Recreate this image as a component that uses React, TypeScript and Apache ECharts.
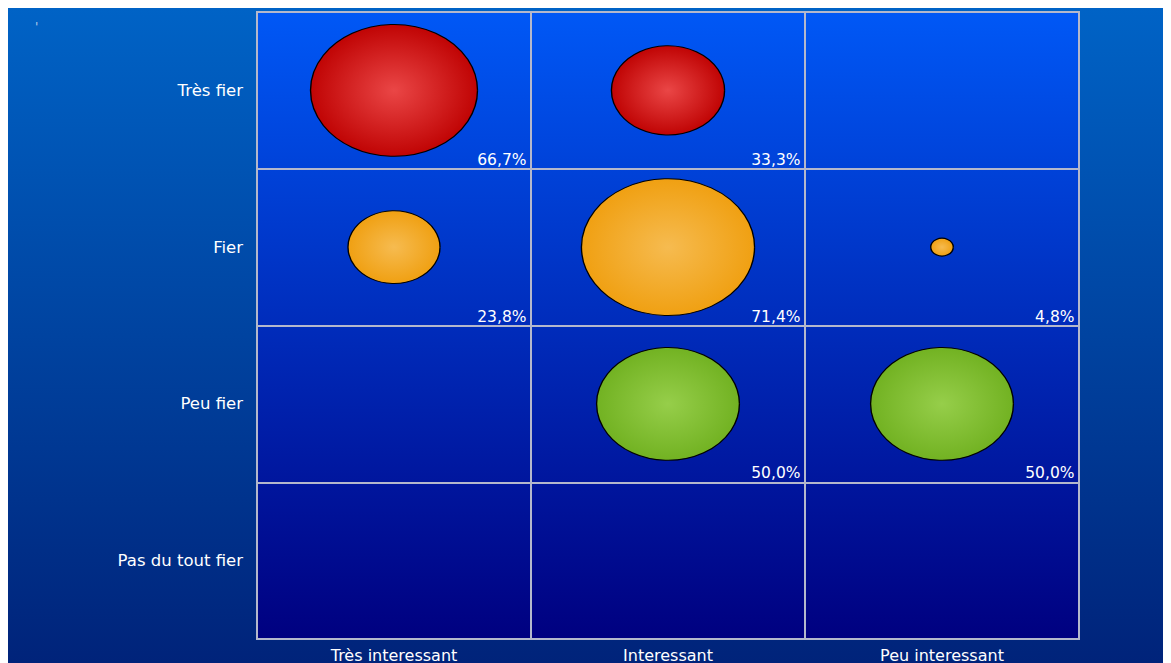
import React, { useEffect, useRef } from "react";
import * as echarts from "echarts";

const rowLabels = ["Très fier", "Fier", "Peu fier", "Pas du tout fier"];
const colLabels = ["Très interessant", "Interessant", "Peu interessant"];

const tresFier: (number | null)[] = [66.7, 33.3, null];
const fier: (number | null)[] = [23.8, 71.4, 4.8];
const peuFier: (number | null)[] = [null, 50.0, 50.0];
const pasDuToutFier: (number | null)[] = [null, null, null];

const rowValues = [tresFier, fier, peuFier, pasDuToutFier];
const rowColors = [
  ["#ea4646", "#c00404"],
  ["#f6bb50", "#f0a012"],
  ["#96ce4a", "#72b222"],
  ["#9999ff", "#6666cc"],
];

const fontFamily = "'DejaVu Sans', 'Liberation Sans', Arial, sans-serif";

function bubbleSize(v: number): [number, number] {
  const w = 41.35 * Math.pow(v, 0.4) - 54.9;
  return [w, w * 0.79];
}

export default function App() {
  const ref = useRef<HTMLDivElement>(null);
  useEffect(() => {
    if (!ref.current) return;
    const chart = echarts.init(ref.current, null, { renderer: "svg" });

    const bubbleSeries = rowValues.map((vals, r) => ({
      type: "scatter",
      name: rowLabels[r],
      xAxisIndex: 0,
      yAxisIndex: 0,
      data: vals
        .map((v, c) => (v == null ? null : [colLabels[c], rowLabels[r], v]))
        .filter((d) => d != null),
      symbol: "circle",
      symbolSize: (d: any) => bubbleSize(d[2]),
      itemStyle: {
        opacity: 1,
        color: {
          type: "radial",
          x: 0.5,
          y: 0.5,
          r: 0.5,
          colorStops: [
            { offset: 0, color: rowColors[r][0] },
            { offset: 1, color: rowColors[r][1] },
          ],
        },
        borderColor: "#000000",
        borderWidth: 1.2,
      },
      z: 3,
    }));

    const labelData: any[] = [];
    rowValues.forEach((vals, r) =>
      vals.forEach((v, c) => {
        if (v != null) labelData.push([c + 1, r + 1, v]);
      })
    );

    const labelSeries = {
      type: "scatter",
      xAxisIndex: 1,
      yAxisIndex: 1,
      data: labelData,
      symbolSize: 1,
      itemStyle: { color: "rgba(0,0,0,0)", opacity: 1 },
      silent: true,
      z: 4,
      label: {
        show: true,
        position: "left",
        distance: 4,
        offset: [0, -9],
        color: "#ffffff",
        opacity: 1,
        fontFamily,
        fontSize: 15.5,
        formatter: (p: any) => p.value[2].toFixed(1).replace(".", ",") + "%",
      },
    };

    const gridLine = { show: true, lineStyle: { color: "#b4b8cc", width: 2 } };

    chart.setOption({
      animation: false,
      backgroundColor: {
        type: "linear",
        x: 0,
        y: 0,
        x2: 0,
        y2: 1,
        colorStops: [
          { offset: 0, color: "#0063c6" },
          { offset: 1, color: "#00237a" },
        ],
      },
      title: {
        text: "'",
        left: 22,
        top: 8,
        textStyle: { color: "#b8cce8", fontSize: 12, fontWeight: "normal", fontFamily },
      },
      grid: {
        left: 249,
        top: 4,
        right: 92,
        bottom: 23,
        show: true,
        backgroundColor: {
          type: "linear",
          x: 0,
          y: 0,
          x2: 0,
          y2: 1,
          colorStops: [
            { offset: 0, color: "#0058f6" },
            { offset: 1, color: "#000080" },
          ],
        },
        borderColor: "#b4b8cc",
        borderWidth: 2,
      },
      xAxis: [
        {
          type: "category",
          data: colLabels,
          boundaryGap: true,
          axisLine: { show: true, lineStyle: { color: "#b4b8cc", width: 2 } },
          axisTick: { show: false },
          splitLine: gridLine,
          axisLabel: { color: "#ffffff", fontFamily, fontSize: 16, margin: 8 },
        },
        {
          type: "value",
          min: 0,
          max: 3,
          show: false,
          splitLine: { show: false },
        },
      ],
      yAxis: [
        {
          type: "category",
          data: rowLabels,
          inverse: true,
          boundaryGap: true,
          axisLine: { show: true, lineStyle: { color: "#b4b8cc", width: 2 } },
          axisTick: { show: false },
          splitLine: gridLine,
          axisLabel: { color: "#ffffff", fontFamily, fontSize: 16.5, margin: 14 },
        },
        {
          type: "value",
          min: 0,
          max: 4,
          inverse: true,
          show: false,
          splitLine: { show: false },
        },
      ],
      series: [...bubbleSeries, labelSeries],
    });

    return () => chart.dispose();
  }, []);

  return <div ref={ref} style={{ width: 1163, height: 655 }} />;
}
